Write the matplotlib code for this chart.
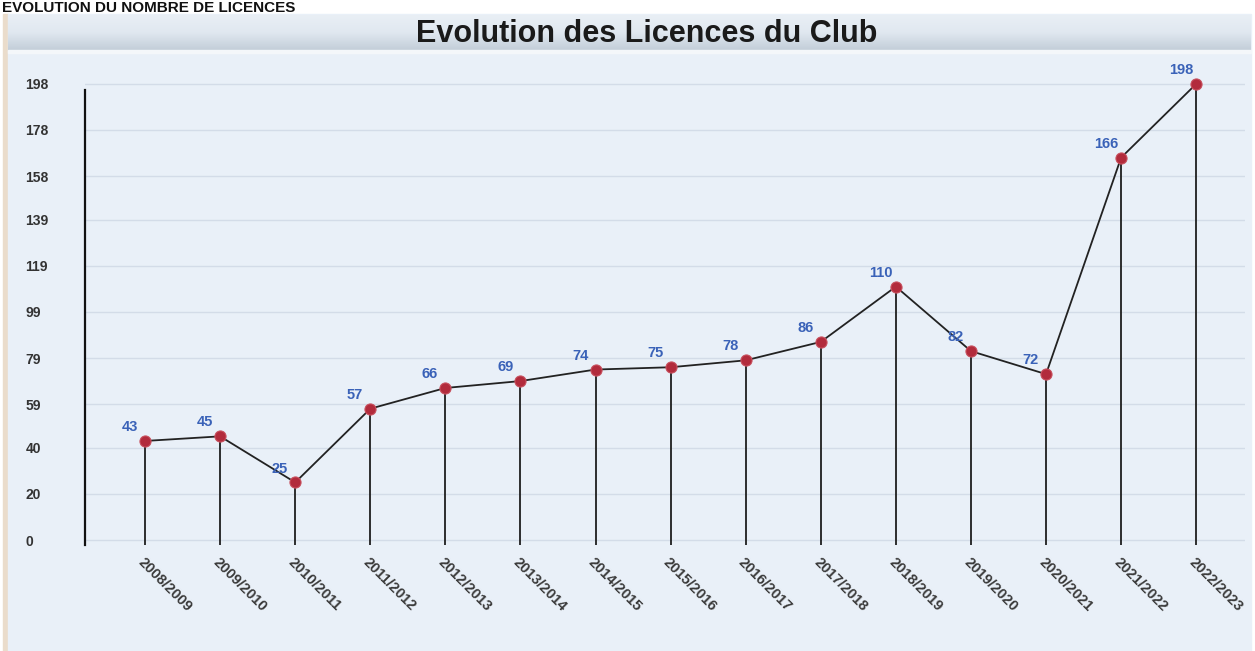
import numpy as np
import matplotlib
matplotlib.use('Agg')
import matplotlib.pyplot as plt
from matplotlib.patches import Rectangle

plt.rcParams['font.family'] = ['Liberation Sans', 'DejaVu Sans']

# data
saisons = ["2008/2009", "2009/2010", "2010/2011", "2011/2012", "2012/2013",
           "2013/2014", "2014/2015", "2015/2016", "2016/2017", "2017/2018",
           "2018/2019", "2019/2020", "2020/2021", "2021/2022", "2022/2023"]
licences = [43, 45, 25, 57, 66, 69, 74, 75, 78, 86, 110, 82, 72, 166, 198]
yticks = [0, 20, 40, 59, 79, 99, 119, 139, 158, 178, 198]

W, H = 1255, 651
fig = plt.figure(figsize=(W / 100, H / 100), dpi=100)
fig.patch.set_facecolor('white')

# background panel (pixel coordinates)
bg = fig.add_axes([0, 0, 1, 1], zorder=-1)
bg.set_xlim(0, W)
bg.set_ylim(H, 0)
bg.axis('off')
bg.add_patch(Rectangle((3, 14), 5, H - 14, color='#eadccb'))
bg.add_patch(Rectangle((8, 14), W - 12, H - 14, color='#e9f0f8'))
grad = np.linspace(0, 1, 64).reshape(-1, 1)
bg.imshow(grad, cmap=matplotlib.colors.LinearSegmentedColormap.from_list(
    'band', ['#e9eff5', '#e0e8f0', '#c3ced9']),
    extent=(8, W - 4, 50, 15), aspect='auto', zorder=1)
bg.add_patch(Rectangle((8, 50), W - 12, 3, color='#f4f7fa', zorder=2))
bg.text(2, 12, "EVOLUTION DU NOMBRE DE LICENCES", fontsize=11, fontweight='bold',
        color='#111111', ha='left', va='baseline', zorder=3)
bg.text(647, 34, "Evolution des Licences du Club", fontsize=22, fontweight='bold',
        color='#1a1a1a', ha='center', va='center', zorder=3)

# main plot area
ax = fig.add_axes([85 / W, 1 - 545 / H, (1245 - 85) / W, (545 - 80) / H])
ax.set_facecolor('none')
ymin, ymax = -2.17, 199.7
ax.set_ylim(ymin, ymax)
ax.set_xlim(-0.8, 14.65)

x = np.arange(len(saisons))
ax.vlines(x, ymin, licences, colors='#1e1e1e', lw=1.3, zorder=2)
ax.plot(x, licences, color='#222222', lw=1.3, zorder=3)
ax.plot(x, licences, 'o', ms=8, color='#b22b3c', mec='#c8505e', mew=0.8,
        zorder=4, clip_on=False)
for xi, v in zip(x, licences):
    ax.annotate(str(v), (xi, v), xytext=(-11, 10), textcoords='offset points',
                ha='center', va='center', fontsize=10.5, fontweight='bold',
                color='#3a62b8', zorder=5)

ax.set_yticks(yticks)
ax.set_yticklabels([str(t) for t in yticks], ha='left', fontsize=10,
                   fontweight='bold', color='#333333')
ax.tick_params(axis='y', length=0, pad=43)
ax.grid(axis='y', color='#d3dce8', lw=1)
ax.set_axisbelow(True)

ax.set_xticks(x)
ax.set_xticklabels(saisons, rotation=-45, ha='left', va='top',
                   rotation_mode='anchor', fontsize=10.5, fontweight='bold',
                   color='#3a3a3a')
ax.tick_params(axis='x', length=0, pad=7)

for s in ['top', 'right', 'bottom']:
    ax.spines[s].set_visible(False)
ax.spines['left'].set_color('#111111')
ax.spines['left'].set_linewidth(1.6)
ax.spines['left'].set_bounds(ymin, 195.4)

fig.savefig('out.png', dpi=100)
